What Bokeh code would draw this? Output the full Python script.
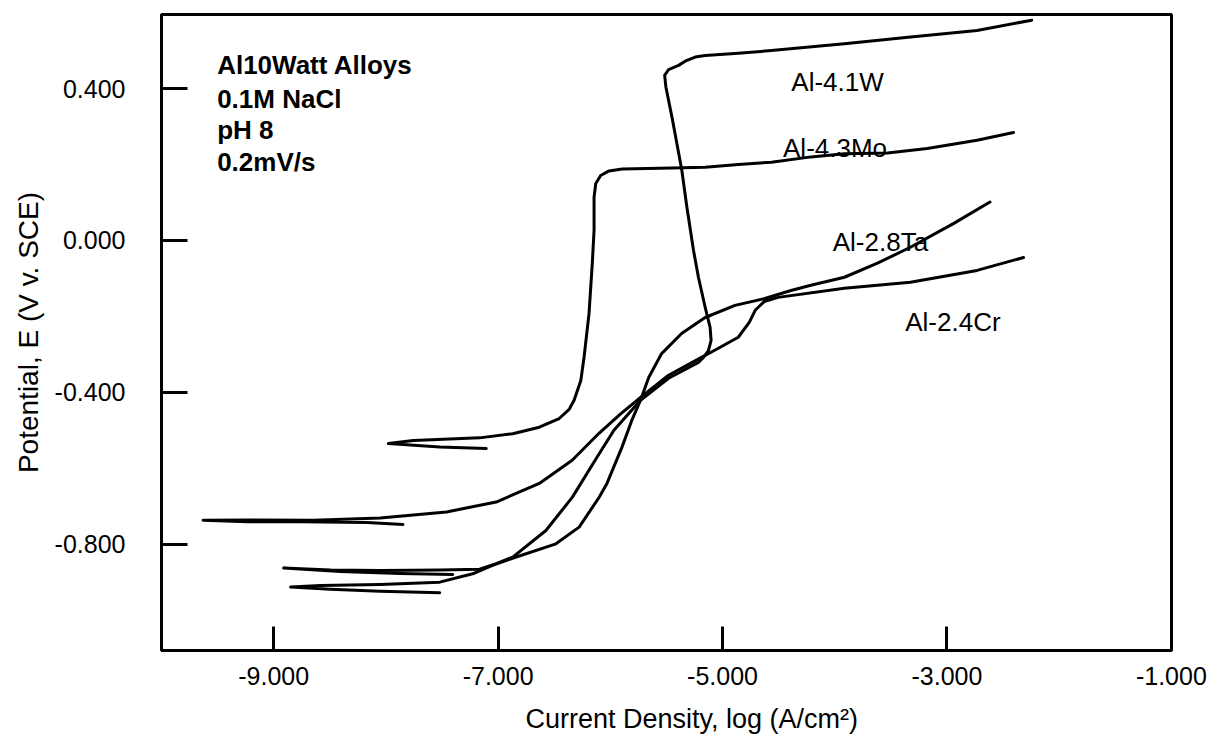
from bokeh.plotting import figure
from bokeh.models import Range1d, FixedTicker, Label, Title
from bokeh.embed import file_html
from bokeh.resources import INLINE

# ---- data (log current density, potential V vs SCE) ----
w_x = [-7.404, -7.874, -8.406, -8.911, -8.495, -8.051, -7.520, -7.165, -7.017, -6.870,
       -6.574, -6.338, -6.119, -5.968, -5.731, -5.481, -5.215, -5.170, -5.126, -5.102,
       -5.111, -5.155, -5.215, -5.259, -5.318, -5.363, -5.407, -5.451, -5.505, -5.516,
       -5.481, -5.392, -5.333, -5.244, -5.155, -4.860, -4.565, -3.914, -3.324, -2.732, -2.245]
w_y = [-0.880, -0.877, -0.872, -0.863, -0.868, -0.869, -0.868, -0.866, -0.851, -0.834,
       -0.764, -0.676, -0.571, -0.500, -0.421, -0.363, -0.321, -0.308, -0.290, -0.263,
       -0.229, -0.176, -0.097, -0.026, 0.088, 0.185, 0.255, 0.325, 0.404, 0.435,
       0.450, 0.461, 0.472, 0.483, 0.487, 0.493, 0.500, 0.518, 0.536, 0.553, 0.580]

mo_x = [-7.106, -7.520, -7.978, -7.756, -7.165, -6.870, -6.633, -6.456, -6.367, -6.323,
        -6.263, -6.234, -6.190, -6.161, -6.145, -6.145, -6.130, -6.086, -6.012, -5.894,
        -5.451, -5.155, -4.860, -4.565, -4.210, -3.914, -3.530, -3.176, -2.732, -2.407]
mo_y = [-0.548, -0.544, -0.535, -0.527, -0.520, -0.509, -0.492, -0.469, -0.445, -0.421,
        -0.369, -0.307, -0.193, -0.061, 0.027, 0.114, 0.150, 0.171, 0.183, 0.188,
        0.191, 0.193, 0.200, 0.206, 0.220, 0.228, 0.230, 0.242, 0.264, 0.284]

ta_x = [-7.520, -8.051, -8.495, -8.849, -8.583, -8.051, -7.520, -7.227, -7.050, -6.872,
        -6.485, -6.278, -6.101, -6.030, -5.897, -5.809, -5.731, -5.658, -5.543, -5.365,
        -5.155, -4.889, -4.623, -4.390, -4.213, -3.914, -3.619, -3.326, -2.939, -2.617]
ta_y = [-0.928, -0.924, -0.919, -0.913, -0.909, -0.906, -0.900, -0.878, -0.856, -0.837,
        -0.799, -0.755, -0.677, -0.640, -0.545, -0.474, -0.421, -0.361, -0.298, -0.245,
        -0.203, -0.171, -0.153, -0.132, -0.118, -0.097, -0.060, -0.018, 0.045, 0.101]

cr_x = [-7.848, -8.169, -8.761, -9.233, -9.629, -9.233, -8.645, -8.051, -7.460, -7.017,
        -6.633, -6.340, -6.101, -5.906, -5.720, -5.481, -5.188, -5.037, -4.860, -4.762,
        -4.709, -4.629, -4.505, -3.914, -3.326, -2.732, -2.318]
cr_y = [-0.748, -0.743, -0.741, -0.741, -0.737, -0.736, -0.737, -0.731, -0.715, -0.689,
        -0.640, -0.579, -0.508, -0.456, -0.411, -0.355, -0.308, -0.284, -0.255, -0.216,
        -0.184, -0.161, -0.150, -0.126, -0.110, -0.079, -0.045]

curve_names = ["Al-4.1W", "Al-4.3Mo", "Al-2.8Ta", "Al-2.4Cr"]
curve_label_x = [-4.387, -4.461, -4.018, -3.372]
curve_label_y = [0.417, 0.244, -0.004, -0.215]

info_lines = ["Al10Watt Alloys", "0.1M NaCl", "pH 8", "0.2mV/s"]
info_x = -9.504
info_y = [0.461, 0.373, 0.290, 0.206]

x_ticks = [-9, -7, -5, -3, -1]
x_tick_labels = ["-9.000", "-7.000", "-5.000", "-3.000", "-1.000"]
y_ticks = [0.4, 0.0, -0.4, -0.8]
y_tick_labels = ["0.400", "0.000", "-0.400", "-0.800"]

x_title = "Current Density, log (A/cm\u00b2)"
y_title = "Potential, E (V v. SCE)"

FONT = "Liberation Sans"

p = figure(width=1210, height=747,
           x_range=Range1d(-10.0, -0.999), y_range=Range1d(-1.080, 0.595),
           output_backend="svg", toolbar_location=None,
           min_border_left=161, min_border_right=39,
           min_border_top=14, min_border_bottom=97)
p.background_fill_color = "white"
p.border_fill_color = "white"
p.outline_line_color = "black"
p.outline_line_width = 3
p.xgrid.visible = False
p.ygrid.visible = False

for ax, ticks, labels in ((p.xaxis[0], x_ticks, x_tick_labels), (p.yaxis[0], y_ticks, y_tick_labels)):
    ax.ticker = FixedTicker(ticks=ticks, minor_ticks=[])
    ax.major_label_overrides = dict(zip(ticks, labels))
    ax.axis_line_color = "black"
    ax.axis_line_width = 3
    ax.major_tick_line_color = "black"
    ax.major_tick_line_width = 3
    ax.major_tick_out = 0
    ax.minor_tick_line_color = None
    ax.major_label_text_font = FONT
    ax.major_label_text_font_size = "25px"
    ax.major_label_text_color = "black"

p.xaxis.major_tick_in = 24
p.yaxis.major_tick_in = 26
p.xaxis.major_label_standoff = 16
p.yaxis.major_label_standoff = 36

p.yaxis.axis_label = y_title
p.yaxis.axis_label_text_font = FONT
p.yaxis.axis_label_text_font_size = "28px"
p.yaxis.axis_label_text_font_style = "normal"
p.yaxis.axis_label_text_color = "black"
p.yaxis.axis_label_standoff = 8

# x-axis title (slightly right of centre, as in the original)
p.add_layout(Title(text=x_title, align="left", offset=364, standoff=28,
                   text_font=FONT, text_font_size="27px", text_font_style="normal",
                   text_color="black"), "below")

for xs, ys in ((w_x, w_y), (mo_x, mo_y), (ta_x, ta_y), (cr_x, cr_y)):
    p.line(xs, ys, line_color="black", line_width=3, line_join="round", line_cap="round")

for name, lx, ly in zip(curve_names, curve_label_x, curve_label_y):
    p.add_layout(Label(x=lx, y=ly, text=name, text_font=FONT, text_font_size="26px",
                       text_baseline="middle", text_align="left", text_color="black"))

for line, ly in zip(info_lines, info_y):
    p.add_layout(Label(x=info_x, y=ly, text=line, text_font=FONT, text_font_size="26px",
                       text_font_style="bold", text_baseline="middle", text_align="left",
                       text_color="black"))

open("out.html", "w").write(file_html(p, INLINE))
